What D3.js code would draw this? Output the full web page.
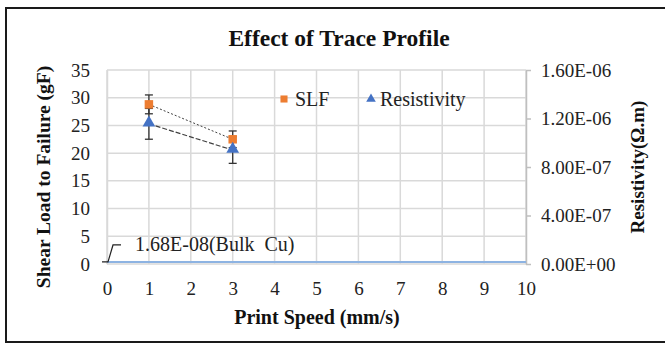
<!DOCTYPE html>
<html><head><meta charset="utf-8">
<script src="https://cdn.jsdelivr.net/npm/d3@7"></script>
<style>body{margin:0;background:#fff}svg{display:block}svg text{font-family:"Liberation Serif","Times New Roman","DejaVu Serif",serif !important}</style>
</head><body><svg id="c" width="665" height="347"></svg>
<script>
const speeds = [1, 3];
const slf = [28.8, 22.5];
const slfErr = [1.7, 1.5];
const resistivity = [1.156e-6, 9.4e-7];
const resErr = [1.27e-7, 1.1e-7];
const bulkCu = 1.68e-8;
const bulkX = [0, 10];
const xTicks = [0,1,2,3,4,5,6,7,8,9,10];
const yTicks = [0,5,10,15,20,25,30,35];
const y2Ticks = [0, 4e-7, 8e-7, 1.2e-6, 1.6e-6];

const FS = 19;
const svg = d3.select("#c");
svg.append("rect").attr("x",6).attr("y",8).attr("width",670).attr("height",334)
  .attr("fill","#fff").attr("stroke","#1a1a1a").attr("stroke-width",2);

const x = d3.scaleLinear().domain([0,10]).range([107,526]);
const y = d3.scaleLinear().domain([0,35]).range([264,70]);
const y2 = d3.scaleLinear().domain([0,1.6e-6]).range([264,70]);

const g = svg.append("g");
g.selectAll(".vg").data(xTicks).join("line")
  .attr("x1",d=>x(d)).attr("x2",d=>x(d)).attr("y1",y(35)).attr("y2",y(0))
  .attr("stroke","#d9d9d9").attr("stroke-width",1.5);
g.selectAll(".hg").data(yTicks).join("line")
  .attr("x1",x(0)).attr("x2",x(10)).attr("y1",d=>y(d)).attr("y2",d=>y(d))
  .attr("stroke","#d9d9d9").attr("stroke-width",1.5);

const ax = d3.axisBottom(x).tickValues(xTicks).tickSize(0).tickPadding(18).tickFormat(d3.format("d"));
const axg = svg.append("g").attr("transform",`translate(0,${y(0)})`).call(ax);
axg.select(".domain").remove();
axg.selectAll("text").attr("font-size",FS).attr("fill","#222");

const ay = d3.axisLeft(y).tickValues(yTicks).tickSize(0).tickPadding(17);
const ayg = svg.append("g").attr("transform",`translate(${x(0)},0)`).call(ay);
ayg.select(".domain").attr("stroke","#d9d9d9").attr("stroke-width",1.5);
ayg.selectAll("text").attr("font-size",FS).attr("fill","#222");

const ay2 = d3.axisRight(y2).tickValues(y2Ticks).tickSize(5).tickSizeOuter(0).tickPadding(10)
  .tickFormat(d => { const s = d.toExponential(2).toUpperCase(); const m = s.match(/^(.*)E([+-])(\d+)$/); return m[1]+"E"+m[2]+m[3].padStart(2,"0"); });
const ay2g = svg.append("g").attr("transform",`translate(${x(10)},0)`).call(ay2);
ay2g.select(".domain").attr("stroke","#bfbfbf").attr("stroke-width",1.5);
ay2g.selectAll("line").attr("stroke","#bfbfbf").attr("stroke-width",1.5);
ay2g.selectAll("text").attr("font-size",FS).attr("fill","#222");

svg.append("line").attr("x1",x(bulkX[0])).attr("x2",x(bulkX[1]))
  .attr("y1",y2(bulkCu)).attr("y2",y2(bulkCu)).attr("stroke","#8db3e2").attr("stroke-width",2);
svg.append("path").attr("d",`M${x(0)-5},${y2(bulkCu)} L${x(0)+1},${y2(bulkCu)} L${x(0)+6},${y2(bulkCu)-17} L${x(0)+14},${y2(bulkCu)-17}`)
  .attr("fill","none").attr("stroke","#222").attr("stroke-width",1.2);
svg.append("text").attr("x",x(0)+28).attr("y",y2(bulkCu)-11).attr("font-size",20).attr("fill","#222")
  .attr("xml:space","preserve").text("1.68E-08(Bulk  Cu)");

const lineS = d3.line().x((d,i)=>x(speeds[i])).y(d=>y(d));
svg.append("path").attr("d",lineS(slf)).attr("fill","none").attr("stroke","#404040")
  .attr("stroke-width",1).attr("stroke-dasharray","2,2");
const lineR = d3.line().x((d,i)=>x(speeds[i])).y(d=>y2(d));
svg.append("path").attr("d",lineR(resistivity)).attr("fill","none").attr("stroke","#404040")
  .attr("stroke-width",1.2).attr("stroke-dasharray","5,2");

function errbar(cx, lo, hi){
  const e = svg.append("g").attr("stroke","#333").attr("stroke-width",1.3);
  e.append("line").attr("x1",cx).attr("x2",cx).attr("y1",lo).attr("y2",hi);
  e.append("line").attr("x1",cx-4).attr("x2",cx+4).attr("y1",lo).attr("y2",lo);
  e.append("line").attr("x1",cx-4).attr("x2",cx+4).attr("y1",hi).attr("y2",hi);
}
speeds.forEach((s,i)=>errbar(x(s), y(slf[i]-slfErr[i]), y(slf[i]+slfErr[i])));
speeds.forEach((s,i)=>errbar(x(s), y2(resistivity[i]-resErr[i]), y2(resistivity[i]+resErr[i])));

const sq = d3.symbol().type(d3.symbolSquare).size(72);
const tri = d3.symbol().type(d3.symbolTriangle).size(70);
speeds.forEach((s,i)=>svg.append("path").attr("d",sq()).attr("transform",`translate(${x(s)},${y(slf[i])})`).attr("fill","#ed7d31"));
speeds.forEach((s,i)=>svg.append("path").attr("d",tri()).attr("transform",`translate(${x(s)},${y2(resistivity[i])-1})`).attr("fill","#4472c4"));

svg.append("path").attr("d",d3.symbol().type(d3.symbolSquare).size(50)()).attr("transform","translate(284,99)").attr("fill","#ed7d31");
svg.append("text").attr("x",295).attr("y",106).attr("font-size",20).attr("fill","#222").text("SLF");
svg.append("path").attr("d",d3.symbol().type(d3.symbolTriangle).size(40)()).attr("transform","translate(371,99)").attr("fill","#4472c4");
svg.append("text").attr("x",380).attr("y",106).attr("font-size",20).attr("fill","#222").text("Resistivity");

svg.append("text").attr("x",339).attr("y",46).attr("text-anchor","middle").attr("font-size",23.5)
  .attr("font-weight","bold").attr("fill","#111").text("Effect of Trace Profile");
svg.append("text").attr("x",317).attr("y",324).attr("text-anchor","middle").attr("font-size",20)
  .attr("font-weight","bold").attr("fill","#111").text("Print Speed (mm/s)");
svg.append("text").attr("transform","translate(50,177) rotate(-90)").attr("text-anchor","middle").attr("font-size",19.5)
  .attr("font-weight","bold").attr("fill","#111").text("Shear Load to Failure (gF)");
svg.append("text").attr("transform","translate(644,167) rotate(-90)").attr("text-anchor","middle").attr("font-size",19)
  .attr("font-weight","bold").attr("fill","#111").text("Resistivity(Ω.m)");
</script></body></html>
